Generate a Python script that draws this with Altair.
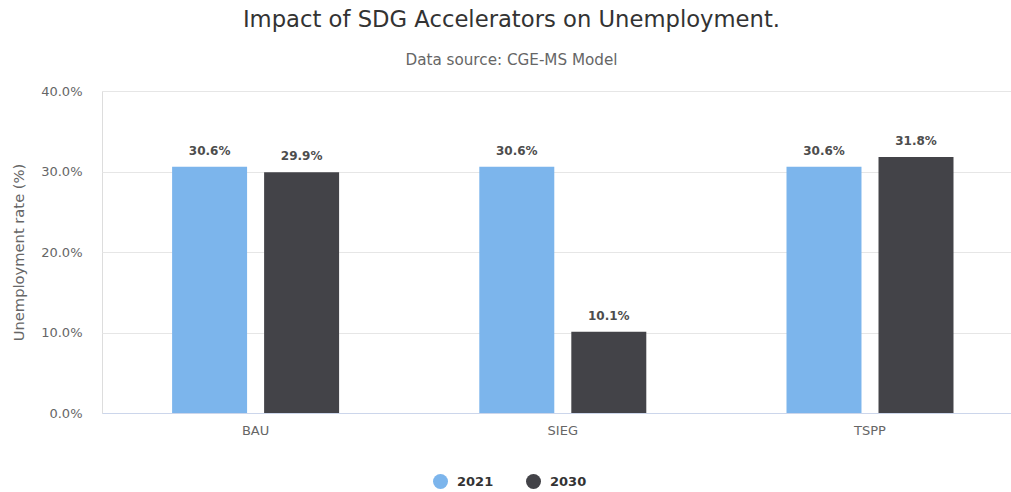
import altair as alt
import pandas as pd

categories = ["BAU", "SIEG", "TSPP"]
years = ["2021", "2030"]
values_2021 = [30.6, 30.6, 30.6]
values_2030 = [29.9, 10.1, 31.8]
colors = ["#7cb5ec", "#434348"]

rows = []
for c, v in zip(categories, values_2021):
    rows.append({"scenario": c, "year": "2021", "value": v})
for c, v in zip(categories, values_2030):
    rows.append({"scenario": c, "year": "2030", "value": v})
df = pd.DataFrame(rows)
df["label"] = df["value"].map(lambda v: f"{v:.1f}%")

FONT = "DejaVu Sans"

x = alt.X("scenario:N", sort=categories, title=None,
          scale=alt.Scale(range=[0, 921.6], paddingInner=0.4564, paddingOuter=0.2282),
          axis=alt.Axis(labelAngle=0, ticks=False, domainColor="#ccd6eb",
                        labelColor="#666666", labelFontSize=13, labelPadding=11,
                        labelFont=FONT, grid=False))
xo = alt.XOffset("year:N", sort=years,
                 scale=alt.Scale(paddingInner=0.185, paddingOuter=0))
y = alt.Y("value:Q", title="Unemployment rate (%)",
          scale=alt.Scale(domain=[0, 40], nice=False),
          axis=alt.Axis(values=[0, 10, 20, 30, 40],
                        labelExpr="format(datum.value, '.1f') + '%'",
                        domain=False, ticks=False, gridColor="#e6e6e6",
                        labelColor="#666666", labelFontSize=13, labelPadding=20,
                        labelFont=FONT, titleFont=FONT, titleFontSize=14.7,
                        titleColor="#666666", titleFontWeight="normal",
                        titlePadding=14))

bars = alt.Chart(df).mark_bar().encode(
    x=x, xOffset=xo, y=y,
    color=alt.Color("year:N", sort=years,
                    scale=alt.Scale(domain=years, range=colors),
                    legend=alt.Legend(title=None, orient="none", direction="horizontal",
                                      legendX=331, legendY=383, symbolType="circle",
                                      symbolSize=225, symbolStrokeWidth=0,
                                      labelFont=FONT, labelFontSize=13,
                                      labelFontWeight="bold", labelColor="#333333",
                                      columnPadding=32, labelOffset=9)),
)

labels = alt.Chart(df).mark_text(dy=-9, fontSize=12, fontWeight="bold",
                                 font=FONT, color="#4d4d4d", baseline="bottom").encode(
    x=x, xOffset=xo, y=y, text="label:N"
)

chart = alt.layer(bars, labels).properties(
    width=909, height=322,
    padding={"left": 102, "top": 91, "right": 0, "bottom": 79},
    autosize=alt.AutoSizeParams(type="none"),
    title=alt.TitleParams(
        text="Impact of SDG Accelerators on Unemployment.",
        subtitle="Data source: CGE-MS Model",
        anchor="middle", dx=-45, offset=17,
        font=FONT, fontSize=22.7, fontWeight="normal", color="#333333",
        subtitleFont=FONT, subtitleFontSize=15.2, subtitleColor="#666666",
        subtitlePadding=21,
    ),
).configure_view(strokeOpacity=0, strokeWidth=0).configure(background="white")

chart.save("out.html", embed_options={"renderer": "svg", "actions": False})
